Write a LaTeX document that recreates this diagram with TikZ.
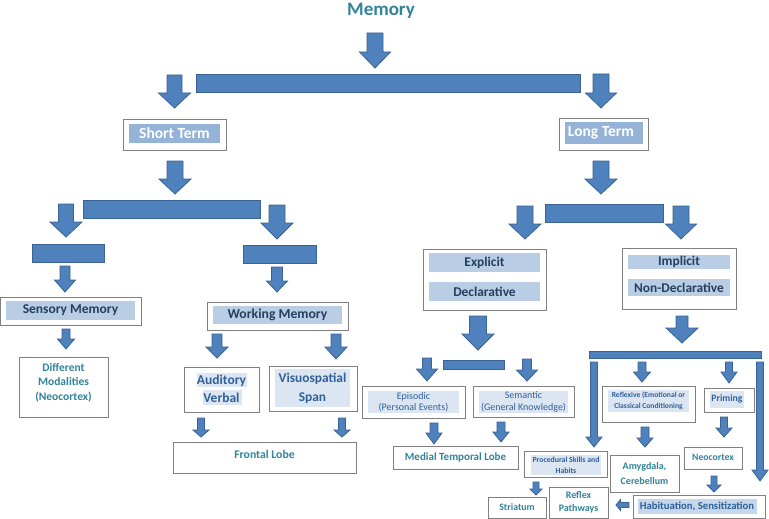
\documentclass[tikz,border=0pt]{standalone}
\usepackage{fontspec}
\setmainfont{Carlito}
\usetikzlibrary{fit}
\definecolor{arrfill}{HTML}{4F81BD}
\definecolor{arrdraw}{HTML}{3A6393}
\definecolor{boxdraw}{HTML}{808080}
\definecolor{fillA}{HTML}{B9CDE5}
\definecolor{fillB}{HTML}{DCE6F2}
\definecolor{fillC}{HTML}{C6D6EB}
\definecolor{fillT}{HTML}{95B3D7}
\definecolor{navy}{HTML}{243F60}
\definecolor{midblue}{HTML}{30609A}
\definecolor{teal}{HTML}{31849B}
\tikzset{
  arrst/.style={fill=arrfill, draw=arrdraw, line width=0.8pt, line join=miter},
  boxst/.style={draw=boxdraw, fill=white, line width=0.9pt, inner sep=0pt},
  lbl/.style={inner sep=0pt, align=center, font=\bfseries},
}
\newcommand{\darr}[6]{% cx top headstart tip shafthalf headhalf
  \draw[arrst] ({#1-#5},#2) -- ({#1+#5},#2) -- ({#1+#5},#3) -- ({#1+#6},#3) -- (#1,#4) -- ({#1-#6},#3) -- ({#1-#5},#3) -- cycle;}
\newcommand{\fs}[2]{\fontsize{#1}{#2}\selectfont}
\begin{document}
\begin{tikzpicture}[x=1pt,y=-1pt]
\useasboundingbox (0,0) rectangle (769,519);
\fill[white] (0,0) rectangle (769,519);

% title
\node[lbl, text=teal, font=\bfseries\fs{19}{22}] (mem) at (381,11) {Memory};

% top level
\darr{375}{33}{52}{68}{8}{15.5}
\draw[arrst] (196,74) rectangle (580,92);
\darr{174.5}{75}{93}{108}{7.5}{16}
\darr{601}{74}{93}{108}{8}{15.5}

% short term / long term
\node[boxst, fit={(123,119) (226,150)}] (st) {};
\fill[fillT] (129,124) rectangle (220,143);
\node[lbl, text=white, font=\bfseries\fs{15.5}{18}] at (174.5,133.5) {Short Term};
\node[boxst, fit={(559,118) (648,150)}] (lt) {};
\fill[fillT] (565,122) rectangle (643,144);
\node[lbl, text=white, font=\bfseries\fs{15.5}{18}] at (601,133) {Long Term};

\darr{175}{161}{179}{194}{8}{16}
\darr{601}{161}{179}{194}{8}{16}

% short term branch
\draw[arrst] (83,200) rectangle (260,218);
\darr{66}{204}{222}{237}{7.5}{16}
\darr{277}{205}{223}{239}{8}{16}
\draw[arrst] (32,244) rectangle (104,262);
\draw[arrst] (243,245) rectangle (316,263);
\darr{65}{266}{280}{292}{5}{10.5}
\darr{277}{267}{281}{292}{5.5}{10.5}

\node[boxst, fit={(0.5,297) (141,325)}] (sens) {};
\fill[fillA] (6,301) rectangle (135,320);
\node[lbl, text=navy, font=\bfseries\fs{13.5}{16}] at (70.5,310.5) {Sensory Memory};
\darr{66}{329}{339}{349}{4}{8.5}
\node[boxst, fit={(19,357) (108,417)}] (diff) {};
\node[lbl, text=teal, font=\bfseries\fs{11.5}{14.5}] at (63.5,382.5) {Different\\Modalities\\(Neocortex)};

\node[boxst, fit={(207,302) (348,330)}] (wm) {};
\fill[fillA] (213,306) rectangle (342,324);
\node[lbl, text=navy, font=\bfseries\fs{13.7}{16}] at (277.5,315) {Working Memory};
\darr{217}{334}{347}{358}{5}{11}
\darr{336}{334}{347}{359}{5}{11}

\node[boxst, fit={(184,367) (259,412)}] (aud) {};
\fill[fillB] (197,373) rectangle (247,387);
\fill[fillB] (203,390) rectangle (242,405);
\node[lbl, text=midblue, font=\bfseries\fs{13.5}{18}] at (221.5,388.5) {Auditory\\Verbal};
\node[boxst, fit={(269,366) (357,411)}] (vis) {};
\fill[fillB] (275,369) rectangle (350,407);
\node[lbl, text=midblue, font=\bfseries\fs{13.4}{19}] at (312.5,388.5) {Visuospatial\\Span};
\darr{201}{418}{430}{437}{3.5}{8}
\darr{342}{418}{430}{437}{3.5}{8}
\node[boxst, fit={(173,442) (356,473)}] (front) {};
\node[lbl, text=teal, font=\bfseries\fs{11.7}{14}] at (264.5,454) {Frontal Lobe};

% long term branch
\draw[arrst] (545,204) rectangle (663,222);
\darr{525}{206}{224}{239}{8}{16}
\darr{681}{206}{224}{239}{8}{15.5}

\node[boxst, fit={(423,249) (546,310)}] (expl) {};
\fill[fillA] (429,253) rectangle (540,272);
\fill[fillA] (429,282) rectangle (540,301);
\node[lbl, text=navy, font=\bfseries\fs{13.4}{16}] at (484.5,262.5) {Explicit};
\node[lbl, text=navy, font=\bfseries\fs{13.4}{16}] at (484.5,291.5) {Declarative};
\darr{478}{316}{334}{350}{8.5}{16}
\draw[arrst] (443,360) rectangle (504,369);
\darr{427}{358}{369}{381}{4.5}{10.5}
\darr{527}{359}{370}{381}{4.5}{10.5}

\node[boxst, fit={(362,386) (465,418)}] (epi) {};
\fill[fillB] (368,391) rectangle (459,413);
\node[lbl, text=midblue, font=\fs{10}{11.5}] at (413.5,402) {Episodic\\(Personal Events)};
\node[boxst, fit={(473,386) (574,417)}] (sem) {};
\fill[fillB] (479,391) rectangle (568,413);
\node[lbl, text=midblue, font=\fs{10}{11.5}] at (523.5,402) {Semantic\\(General Knowledge)};
\darr{434}{423}{433}{444}{4}{8}
\darr{501}{422}{432}{442}{4}{8}
\node[boxst, fit={(393,446) (518,469)}] (mtl) {};
\node[lbl, text=teal, font=\bfseries\fs{11}{13}] at (455.5,457.5) {Medial Temporal Lobe};

\node[boxst, fit={(622,248) (736,309)}] (impl) {};
\fill[fillA] (628,255) rectangle (730,269);
\fill[fillA] (628,279) rectangle (730,296);
\node[lbl, text=navy, font=\bfseries\fs{13.4}{16}] at (679,262) {Implicit};
\node[lbl, text=navy, font=\bfseries\fs{13.4}{16}] at (679,287.5) {Non-Declarative};
\darr{682}{316}{328}{343}{6}{16}
\draw[arrst] (589,351) rectangle (761,358);
\darr{594}{362}{437}{447}{3.5}{8}
\darr{642}{362}{372}{382}{4}{8.5}
\darr{729}{362}{372}{383}{3.5}{8}
\darr{760}{362}{470}{481}{3.5}{8}

\node[boxst, fit={(602,386) (695,422)}] (refl) {};
\fill[fillB] (608,390) rectangle (689,412);
\node[lbl, text=midblue, font=\bfseries\fs{7.6}{11}] at (648.5,401) {Reflexive (Emotional or\\Classical Conditioning};
\node[boxst, fit={(704,388) (754,412)}] (prim) {};
\fill[fillB] (710,391) rectangle (744,408);
\node[lbl, text=midblue, font=\bfseries\fs{9.7}{12}] at (727,398.5) {Priming};
\darr{645}{427}{438}{447}{4}{8}
\darr{724}{417}{428}{437}{3.5}{8}
\node[boxst, fit={(610,455) (679,492)}] (amy) {};
\node[lbl, text=teal, font=\bfseries\fs{10}{14.5}] at (644.5,473.5) {Amygdala,\\Cerebellum};
\node[boxst, fit={(684,447) (742,469)}] (neo) {};
\node[lbl, text=teal, font=\bfseries\fs{9.7}{12}] at (713,457) {Neocortex};
\darr{714}{476}{485}{492}{3}{7}

\node[boxst, fit={(633,495) (765,518.5)}] (hab) {};
\fill[fillC] (638,499) rectangle (757,514);
\node[lbl, text=midblue, font=\bfseries\fs{10.7}{13}] at (697,506) {Habituation, Sensitization};
\draw[arrst] (629,502.5) -- (620.5,502.5) -- (620.5,499.5) -- (616,505) -- (620.5,510.5) -- (620.5,507.5) -- (629,507.5) -- cycle;

\node[boxst, fit={(524,451) (607,477)}] (proc) {};
\fill[fillB] (531,455) rectangle (601,475);
\node[lbl, text=midblue, font=\bfseries\fs{7.8}{11}] at (566,465) {Procedural Skills and\\Habits};
\darr{536}{482}{489}{495}{3}{6}
\node[boxst, fit={(488,497) (546,518.5)}] (stri) {};
\node[lbl, text=teal, font=\bfseries\fs{9.8}{12}] at (517,507.5) {Striatum};
\node[boxst, fit={(549,487) (608,518.5)}] (rpath) {};
\node[lbl, text=teal, font=\bfseries\fs{10}{12.5}] at (578.5,502.5) {Reflex\\Pathways};
\end{tikzpicture}
\end{document}
